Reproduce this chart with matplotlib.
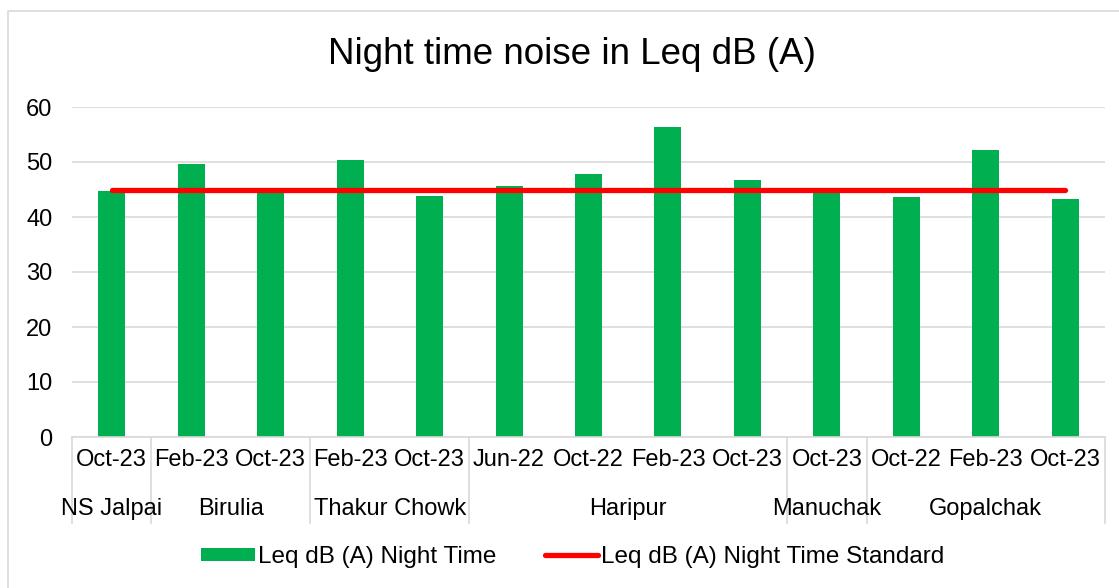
#!/usr/bin/env python3
# -*- coding: utf-8 -*-

import matplotlib
matplotlib.use("Agg")
import matplotlib.pyplot as plt
from matplotlib.patches import Rectangle, Patch
from matplotlib.lines import Line2D
from matplotlib.transforms import blended_transform_factory

plt.rcParams['font.family'] = ['Liberation Sans', 'DejaVu Sans']

# month labels (first level) and the site each one belongs to
months = ["Oct-23", "Feb-23", "Oct-23", "Feb-23", "Oct-23", "Jun-22", "Oct-22",
          "Feb-23", "Oct-23", "Oct-23", "Oct-22", "Feb-23", "Oct-23"]
sites = ["NS Jalpai", "Birulia", "Thakur Chowk", "Haripur", "Manuchak", "Gopalchak"]
site_sizes = [1, 2, 2, 4, 1, 3]

# measured night time noise and the standard
night_leq = [44.7, 49.6, 44.9, 50.4, 43.8, 45.7, 47.8, 56.4, 46.8, 44.6, 43.6, 52.1, 43.3]
night_standard = [45] * len(months)

GREEN = "#00B050"
RED = "#FF0000"
GRID = "#D9D9D9"

fig = plt.figure(figsize=(11.19, 5.88), dpi=100)
ax = fig.add_axes([72 / 1119, 1 - 437 / 588, (1105 - 72) / 1119, (437 - 107) / 588])

x = list(range(len(months)))

# bars and standard line
ax.bar(x, night_leq, width=0.34, color=GREEN, zorder=2)
ax.plot(x, night_standard, color=RED, lw=3.8, solid_capstyle='round', zorder=3)

ax.set_xlim(-0.5, len(months) - 0.5)
ax.set_ylim(0, 60)
ax.set_yticks(range(0, 61, 10))
ax.yaxis.grid(True, color=GRID, lw=1.2, zorder=0)
ax.set_axisbelow(True)
for s in ["left", "right", "top"]:
    ax.spines[s].set_visible(False)
ax.spines["bottom"].set_color(GRID)
ax.spines["bottom"].set_linewidth(1.2)
ax.tick_params(axis='y', length=0, pad=14, labelsize=17)

# first level labels
ax.set_xticks(x)
ax.set_xticklabels(months, fontsize=17)
ax.tick_params(axis='x', length=0, pad=9)

# second level labels and separators
trans = blended_transform_factory(ax.transData, ax.transAxes)
sep_bottom = -(523 - 437) / 330
ax.plot([-0.5, -0.5], [0, sep_bottom], color=GRID, lw=1.2, transform=trans, clip_on=False)
start = -0.5
for site, n in zip(sites, site_sizes):
    end = start + n
    ax.text((start + end) / 2, -72 / 330, site, transform=trans, ha='center', va='center',
            fontsize=17)
    ax.plot([end, end], [0, sep_bottom], color=GRID, lw=1.2, transform=trans, clip_on=False)
    start = end

# title
fig.text(572 / 1119, 1 - 55 / 588, "Night time noise in Leq dB (A)", ha='center', va='center',
         fontsize=26.5)

# legend
handles = [Patch(facecolor=GREEN, edgecolor='none'),
           Line2D([0], [0], color=RED, lw=3.8, solid_capstyle='round')]
fig.legend(handles, ["Leq dB (A) Night Time", "Leq dB (A) Night Time Standard"],
           loc='center', bbox_to_anchor=(573 / 1119, 1 - 557 / 588), ncol=2, frameon=False,
           fontsize=17.5, handlelength=2.2, handleheight=0.45, handletextpad=0.12,
           columnspacing=2.0)

# chart border
fig.patches.append(Rectangle((8 / 1119, -0.1), 1.2, 1 - 11 / 588 + 0.1, fill=False,
                             edgecolor=GRID, lw=1.2, transform=fig.transFigure))

fig.savefig("out.png", dpi=100)
